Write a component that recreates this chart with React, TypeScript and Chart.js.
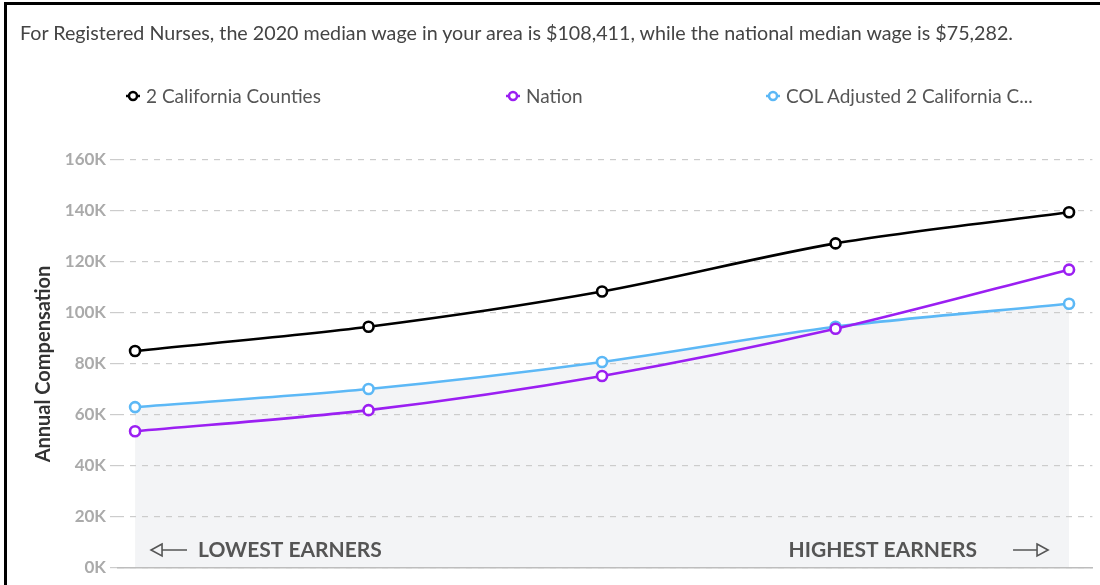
import React, { useEffect, useRef } from 'react';
import { Chart, registerables } from 'chart.js';

Chart.register(...registerables);

const categories = ['10th', '25th', 'Median', '75th', '90th'];
const countiesValues = [85100, 94600, 108411, 127300, 139500];
const nationValues = [53600, 61900, 75282, 93800, 117000];
const colAdjustedValues = [63100, 70200, 80800, 94600, 103600];
const seriesNames = ['2 California Counties', 'Nation', 'COL Adjusted 2 California C...'];
const seriesColors = ['#000000', '#9b1ff2', '#5cb8f6'];
const yTickValues = [0, 20000, 40000, 60000, 80000, 100000, 120000, 140000, 160000];
const titleText = 'For Registered Nurses, the 2020 median wage in your area is $108,411, while the national median wage is $75,282.';
const lowLabel = 'LOWEST EARNERS';
const highLabel = 'HIGHEST EARNERS';

const FONT = 'Lato, "Open Sans", sans-serif';

function drawArrow(ctx: CanvasRenderingContext2D, x1: number, x2: number, y: number, headLeft: boolean) {
  ctx.save();
  ctx.strokeStyle = '#555';
  ctx.lineWidth = 1.6;
  ctx.beginPath();
  const h = 6;
  const w = 11;
  if (headLeft) {
    ctx.moveTo(x1 + w, y);
    ctx.lineTo(x2, y);
    ctx.moveTo(x1 + w, y - h);
    ctx.lineTo(x1, y);
    ctx.lineTo(x1 + w, y + h);
    ctx.closePath();
  } else {
    ctx.moveTo(x1, y);
    ctx.lineTo(x2 - w, y);
    ctx.moveTo(x2 - w, y - h);
    ctx.lineTo(x2, y);
    ctx.lineTo(x2 - w, y + h);
    ctx.closePath();
  }
  ctx.stroke();
  ctx.restore();
}

const earnersPlugin = {
  id: 'earners',
  afterDatasetsDraw(chart: any) {
    const ctx = chart.ctx as CanvasRenderingContext2D;
    const xs = chart.scales.x;
    const ca = chart.chartArea;
    const xFirst = xs.getPixelForValue(0);
    const xLast = xs.getPixelForValue(categories.length - 1);
    const y = ca.bottom - 18;
    ctx.save();
    ctx.font = 'bold 21px ' + FONT;
    ctx.fillStyle = '#555';
    ctx.textBaseline = 'middle';
    drawArrow(ctx, xFirst + 16, xFirst + 52, y, true);
    ctx.textAlign = 'left';
    ctx.fillText(lowLabel, xFirst + 63, y);
    ctx.textAlign = 'right';
    ctx.fillText(highLabel, xLast - 92, y);
    drawArrow(ctx, xLast - 56, xLast - 21, y, false);
    ctx.restore();
  },
};

function LegendMarker({ color }: { color: string }) {
  return (
    <svg width={16} height={14} style={{ display: 'block' }}>
      <line x1={1} y1={7} x2={15} y2={7} stroke={color} strokeWidth={2.5} />
      <circle cx={8} cy={7} r={4} fill="#fff" stroke={color} strokeWidth={2.5} />
    </svg>
  );
}

export default function App() {
  const canvasRef = useRef<HTMLCanvasElement>(null);

  useEffect(() => {
    document.body.style.margin = '0';
    const toPoints = (vals: number[]) => vals.map((v, i) => ({ x: i, y: v }));
    const ds = (idx: number, vals: number[], extra: any = {}) => ({
      label: seriesNames[idx],
      data: toPoints(vals),
      borderColor: seriesColors[idx],
      backgroundColor: seriesColors[idx],
      borderWidth: 2.6,
      tension: 0.3,
      pointRadius: 5,
      pointHoverRadius: 5,
      pointBackgroundColor: '#ffffff',
      pointBorderColor: seriesColors[idx],
      pointBorderWidth: 2.6,
      fill: false,
      ...extra,
    });
    const chart = new Chart(canvasRef.current!, {
      type: 'line',
      data: {
        labels: categories,
        datasets: [
          ds(0, countiesValues, { order: 1 }),
          ds(1, nationValues, { order: 0 }),
          ds(2, colAdjustedValues, { order: 2, fill: 'origin', backgroundColor: '#f3f4f6' }),
        ],
      },
      options: {
        animation: false,
        responsive: true,
        maintainAspectRatio: false,
        layout: { padding: { left: 32, right: 5, top: 160, bottom: 9 } },
        plugins: {
          legend: { display: false },
          title: { display: false },
          tooltip: { enabled: false },
          filler: { drawTime: 'beforeDraw' } as any,
        },
        scales: {
          x: {
            type: 'linear',
            min: -0.073,
            max: categories.length - 1 + 0.1,
            grid: { display: false },
            ticks: { display: false },
            border: { display: true, color: '#bdbdbd', width: 1.5 },
          },
          y: {
            min: 0,
            max: 160000,
            afterFit: (s: any) => { s.width = 86; },
            afterBuildTicks: (s: any) => { s.ticks = yTickValues.map((v) => ({ value: v })); },
            ticks: {
              color: '#aaaaaa',
              font: { family: FONT, size: 17, weight: 'bold' },
              padding: 4,
              callback: (v: any) => `${Number(v) / 1000}K`,
            },
            grid: {
              color: '#cccccc',
              lineWidth: 1.2,
              tickLength: 8,
              drawTicks: true,
            },
            border: { display: false, dash: [6, 6] },
            title: {
              display: true,
              text: 'Annual Compensation',
              color: '#333',
              font: { family: FONT, size: 20, weight: 'bold' },
              padding: { top: 0, bottom: 4 },
            },
          },
        },
      },
      plugins: [earnersPlugin],
    });
    return () => chart.destroy();
  }, []);

  const legendPos = [125, 505, 765];

  return (
    <div style={{ position: 'relative', width: 1100, height: 585, background: '#fff', overflow: 'hidden', fontFamily: FONT }}>
      <div style={{ position: 'absolute', left: 0, top: 0, width: 1100, height: 585 }}>
        <canvas ref={canvasRef} />
      </div>
      <div style={{ position: 'absolute', left: 4, top: 2, width: 1096, height: 583, borderLeft: '3px solid #000', borderTop: '3px solid #000', boxSizing: 'border-box', pointerEvents: 'none' }} />
      <div style={{ position: 'absolute', left: 20, top: 20, fontSize: 19.7, color: '#444', whiteSpace: 'nowrap', lineHeight: '26px' }}>
        {titleText}
      </div>
      {seriesNames.map((name, i) => (
        <div key={name} style={{ position: 'absolute', left: legendPos[i], top: 84, display: 'flex', alignItems: 'center', gap: 5, fontSize: 19, color: '#555', whiteSpace: 'nowrap', lineHeight: '24px' }}>
          <LegendMarker color={seriesColors[i]} />
          <span>{name}</span>
        </div>
      ))}
    </div>
  );
}
